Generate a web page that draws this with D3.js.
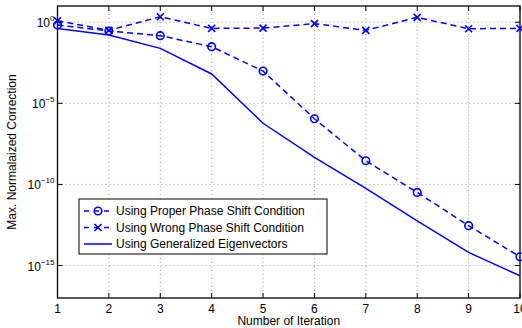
<!DOCTYPE html>
<html>
<head>
<meta charset="utf-8">
<script src="https://cdn.jsdelivr.net/npm/d3@7"></script>
<style>
  body { margin: 0; background: #fff; }
  svg { display: block; font-family: "Liberation Sans", Arial, sans-serif; }
</style>
</head>
<body>
<div id="chart"></div>
<script>
const iterations = [1, 2, 3, 4, 5, 6, 7, 8, 9, 10];
// log10 of max normalized correction
const properLog = [-0.17, -0.54, -0.83, -1.51, -3.01, -5.95, -8.54, -10.49, -12.54, -14.46];
const wrongLog = [0.09, -0.5, 0.34, -0.38, -0.36, -0.09, -0.5, 0.3, -0.4, -0.38];
const generalizedLog = [-0.38, -0.79, -1.61, -3.19, -6.23, -8.33, -10.24, -12.25, -14.19, -15.63];
const yTickExps = [0, -5, -10, -15];
const legendLabels = [
  'Using Proper Phase Shift Condition',
  'Using Wrong Phase Shift Condition',
  'Using Generalized Eigenvectors'
];

const width = 522, height = 328;
const margin = { top: 6, right: 2, bottom: 30, left: 57.5 };
const blue = '#0000ff';

const svg = d3.select('#chart').append('svg')
  .attr('width', width)
  .attr('height', height);

const x = d3.scaleLinear()
  .domain([1, 10])
  .range([margin.left, width - margin.right]);

const y = d3.scaleLog()
  .domain([1e-17, 1e1])
  .range([height - margin.bottom, margin.top]);

const x0 = x.range()[0], x1 = x.range()[1];
const y0 = y.range()[0], y1 = y.range()[1];

// dotted grid
svg.append('g').selectAll('line')
  .data(iterations.slice(1, -1))
  .enter().append('line')
  .attr('x1', (d) => x(d)).attr('x2', (d) => x(d))
  .attr('y1', y1).attr('y2', y0)
  .attr('stroke', '#888').attr('stroke-width', 0.8)
  .attr('stroke-dasharray', '1,3');

svg.append('g').selectAll('line')
  .data(yTickExps)
  .enter().append('line')
  .attr('x1', x0).attr('x2', x1)
  .attr('y1', (d) => y(Math.pow(10, d))).attr('y2', (d) => y(Math.pow(10, d)))
  .attr('stroke', '#888').attr('stroke-width', 0.8)
  .attr('stroke-dasharray', '1,3');

// tick marks inside, both sides
const tickLen = 5;
const ticks = svg.append('g').attr('stroke', '#000').attr('stroke-width', 1);
iterations.forEach((d) => {
  ticks.append('line').attr('x1', x(d)).attr('x2', x(d)).attr('y1', y0).attr('y2', y0 - tickLen);
  ticks.append('line').attr('x1', x(d)).attr('x2', x(d)).attr('y1', y1).attr('y2', y1 + tickLen);
});
yTickExps.forEach((d) => {
  const yy = y(Math.pow(10, d));
  ticks.append('line').attr('x1', x0).attr('x2', x0 + tickLen).attr('y1', yy).attr('y2', yy);
  ticks.append('line').attr('x1', x1).attr('x2', x1 - tickLen).attr('y1', yy).attr('y2', yy);
});

// axes box
svg.append('rect')
  .attr('x', x0).attr('y', y1)
  .attr('width', x1 - x0).attr('height', y0 - y1)
  .attr('fill', 'none').attr('stroke', '#000').attr('stroke-width', 1.3);

// tick labels
svg.append('g').selectAll('text')
  .data(iterations)
  .enter().append('text')
  .attr('x', (d) => x(d))
  .attr('y', y0 + 15)
  .attr('text-anchor', 'middle')
  .style('font-size', '12px')
  .text((d) => d);

const yLabels = svg.append('g').selectAll('text')
  .data(yTickExps)
  .enter().append('text')
  .attr('x', x0 - 3)
  .attr('y', (d) => y(Math.pow(10, d)) + 5)
  .attr('text-anchor', 'end')
  .style('font-size', '12px');
yLabels.append('tspan').text('10');
yLabels.append('tspan')
  .attr('dy', -6)
  .style('font-size', '8px')
  .text((d) => (d < 0 ? '\u2212' + (-d) : d));

// axis titles
svg.append('text')
  .attr('x', (x0 + x1) / 2)
  .attr('y', height - 3)
  .attr('text-anchor', 'middle')
  .style('font-size', '12px')
  .text('Number of Iteration');

svg.append('text')
  .attr('transform', `translate(16,${(y0 + y1) / 2}) rotate(-90)`)
  .attr('text-anchor', 'middle')
  .style('font-size', '12px')
  .text('Max. Normalaized Correction');

// series
const toPoints = (logs) => iterations.map((it, i) => ({ it, v: Math.pow(10, logs[i]) }));
const line = d3.line().x((d) => x(d.it)).y((d) => y(d.v));

const series = [
  { pts: toPoints(properLog), dash: '6,4', marker: 'circle' },
  { pts: toPoints(wrongLog), dash: '6,4', marker: 'cross' },
  { pts: toPoints(generalizedLog), dash: null, marker: null }
];

function drawMarker(g, type, cx, cy) {
  if (type === 'circle') {
    g.append('circle').attr('cx', cx).attr('cy', cy).attr('r', 3.8)
      .attr('fill', 'none').attr('stroke', blue).attr('stroke-width', 1.6);
  } else if (type === 'cross') {
    const s = 3.5;
    g.append('path')
      .attr('d', `M${cx - s},${cy - s}L${cx + s},${cy + s}M${cx - s},${cy + s}L${cx + s},${cy - s}`)
      .attr('stroke', blue).attr('stroke-width', 1.6);
  }
}

series.forEach((s) => {
  svg.append('path')
    .attr('d', line(s.pts))
    .attr('fill', 'none')
    .attr('stroke', blue)
    .attr('stroke-width', 1.5)
    .attr('stroke-dasharray', s.dash);
  if (s.marker) {
    const g = svg.append('g');
    s.pts.forEach((p) => drawMarker(g, s.marker, x(p.it), y(p.v)));
  }
});

// legend
const legend = { x: 79, y: 199, w: 248, h: 55 };
svg.append('rect')
  .attr('x', legend.x).attr('y', legend.y)
  .attr('width', legend.w).attr('height', legend.h)
  .attr('fill', '#fff').attr('stroke', '#000').attr('stroke-width', 1);

legendLabels.forEach((label, i) => {
  const ly = legend.y + 12 + 16.5 * i;
  const s = series[i];
  svg.append('line')
    .attr('x1', legend.x + 5).attr('x2', legend.x + 33)
    .attr('y1', ly).attr('y2', ly)
    .attr('stroke', blue).attr('stroke-width', 1.5)
    .attr('stroke-dasharray', s.dash ? '5,5' : null);
  if (s.marker) drawMarker(svg, s.marker, legend.x + 19, ly);
  svg.append('text')
    .attr('x', legend.x + 37)
    .attr('y', ly + 4)
    .style('font-size', '12px')
    .text(label);
});
</script>
</body>
</html>
